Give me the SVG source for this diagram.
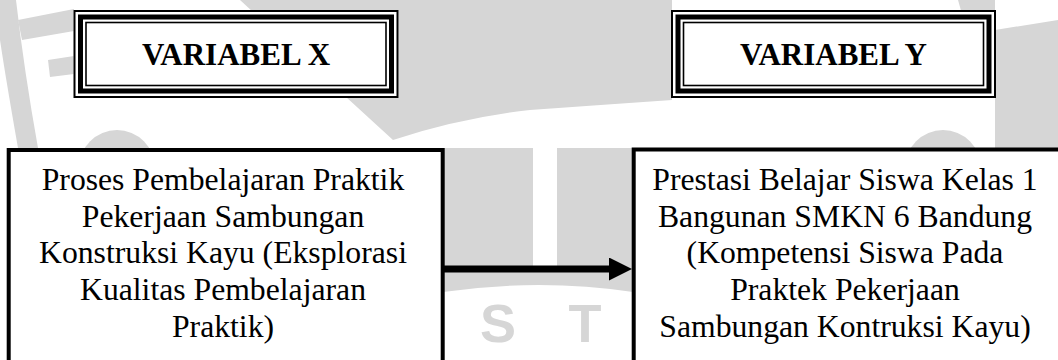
<svg xmlns="http://www.w3.org/2000/svg" width="1058" height="360" viewBox="0 0 1058 360">
  <style>
    .wm { fill: #d6d6d6; stroke: none; }
    .wmText { font-family: "Liberation Sans", Arial, sans-serif; font-weight: bold; font-size: 54px; fill: #d6d6d6; text-anchor: middle; }
    .box { fill: #ffffff; stroke: #000000; stroke-width: 4; }
    .title { font-family: "Liberation Serif", "Times New Roman", serif; font-weight: bold; font-size: 31px; fill: #000000; text-anchor: middle; }
    .body { font-family: "Liberation Serif", "Times New Roman", serif; font-size: 31.7px; fill: #000000; text-anchor: middle; }
    .link { fill: none; stroke: #000000; stroke-width: 7; }
  </style>
  <defs>
    <!-- thin / thick / thin triple border, 325 x 88 -->
    <g id="tripleFrame">
      <rect x="0" y="0" width="325" height="88" fill="#ffffff"/>
      <rect x="1" y="1" width="323" height="86" fill="none" stroke="#000" stroke-width="2"/>
      <rect x="7" y="7" width="311" height="74" fill="none" stroke="#000" stroke-width="5"/>
      <rect x="12.5" y="12.5" width="300" height="63" fill="none" stroke="#000" stroke-width="1.6"/>
    </g>
    <marker id="head" viewBox="0 0 23 23" refX="1" refY="11.5" markerWidth="23" markerHeight="23" markerUnits="userSpaceOnUse" orient="auto">
      <path d="M0,0 L23,11.5 L0,23 Z" fill="#000"/>
    </marker>
  </defs>

  <rect width="1058" height="360" fill="#ffffff"/>

  <!-- faint background emblem -->
  <g id="emblem">
    <path class="wm" d="M0,0 L16,0 Q24,70 38,148 L18,148 Q6,80 0,40 Z"/>
    <path class="wm" d="M18,20 L74,9 L74,31 L22,40 Z"/>
    <path class="wm" d="M48,60 L74,56 L74,74 L50,77 Z"/>
    <path class="wm" d="M240,0 L672,0 L672,100 Q600,105 530,110 Q460,118 393,140 Z"/>
    <path class="wm" d="M958,0 L995,0 L995,40 L975,60 Z"/>
    <path class="wm" d="M995,30 L1058,20 L1058,148 L995,148 Z"/>
    <circle class="wm" cx="117" cy="168" r="38"/>
    <circle class="wm" cx="943" cy="168" r="38"/>
    <!-- columns between the lower boxes -->
    <rect class="wm" x="443" y="148" width="90" height="120"/>
    <rect class="wm" x="557" y="148" width="76" height="120"/>
    <path class="wm" d="M443,268 L633,268 L633,292 Q540,278 443,292 Z"/>
    <text class="wmText" x="498" y="342">S</text>
    <text class="wmText" x="585" y="342">T</text>
  </g>

  <g id="connectors">
    <path class="link" d="M443,269 L610,269" marker-end="url(#head)"/>
  </g>

  <g id="varX">
    <use href="#tripleFrame" transform="translate(73.5,10)"/>
    <text class="title" x="236" y="64.5">VARIABEL X</text>
  </g>

  <g id="varY">
    <use href="#tripleFrame" transform="translate(671,10)"/>
    <text class="title" x="833.5" y="64.5">VARIABEL Y</text>
  </g>

  <g id="nodeX">
    <rect class="box" x="8.7" y="150" width="434" height="230"/>
    <text class="body" x="223" y="190">Proses Pembelajaran Praktik</text>
    <text class="body" x="223" y="226.7">Pekerjaan Sambungan</text>
    <text class="body" x="223" y="263.3">Konstruksi Kayu (Eksplorasi</text>
    <text class="body" x="223" y="300">Kualitas Pembelajaran</text>
    <text class="body" x="223" y="336.7">Praktik)</text>
  </g>

  <g id="nodeY">
    <rect class="box" x="633.7" y="149.5" width="500" height="230"/>
    <text class="body" x="845" y="190">Prestasi Belajar Siswa Kelas 1</text>
    <text class="body" x="845" y="226.7">Bangunan SMKN 6 Bandung</text>
    <text class="body" x="845" y="263.3">(Kompetensi Siswa Pada</text>
    <text class="body" x="845" y="300">Praktek Pekerjaan</text>
    <text class="body" x="845" y="336.7">Sambungan Kontruksi Kayu)</text>
  </g>
</svg>
